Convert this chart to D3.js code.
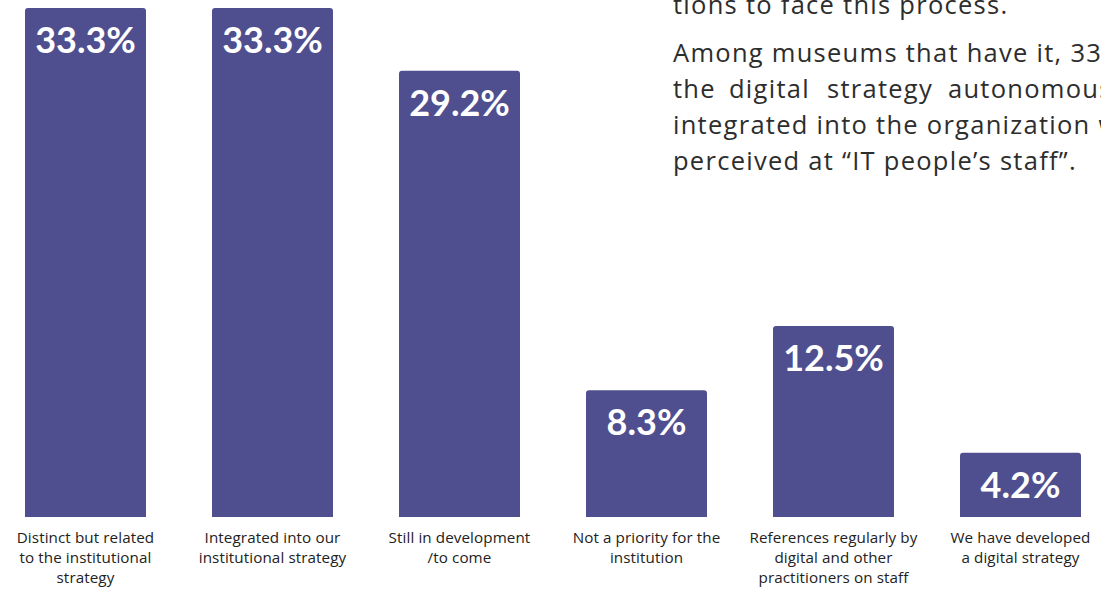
<!DOCTYPE html>
<html>
<head>
<meta charset="utf-8">
<script src="https://cdn.jsdelivr.net/npm/d3@7"></script>
<style>
  html, body { margin: 0; padding: 0; background: #fff; overflow: hidden; }
  svg { display: block; }
</style>
</head>
<body>
<svg class="strategy-chart"></svg>
<script>
// data
const categories = [
  ['Distinct but related', 'to the institutional', 'strategy'],
  ['Integrated into our', 'institutional strategy'],
  ['Still in development', '/to come'],
  ['Not a priority for the', 'institution'],
  ['References regularly by', 'digital and other', 'practitioners on staff'],
  ['We have developed', 'a digital strategy']
]
const values = [33.3, 33.3, 29.2, 8.3, 12.5, 4.2]
const valueLabels = ['33.3%', '33.3%', '29.2%', '8.3%', '12.5%', '4.2%']

// the bit of report text that spills over the top right of the chart
const bodyLines = [
  'tions to face this process.',
  'Among museums that have it, 33.3%',
  'the digital strategy autonomously',
  'integrated into the organization was',
  'perceived at \u201cIT people\u2019s staff\u201d.'
]

const width = 1101
const height = 590
const barColor = '#4f4f8f'

const svg = d3.select('.strategy-chart')
  .attr('width', width)
  .attr('height', height)

const x = d3.scaleBand()
  .domain(d3.range(values.length))
  .range([25, 1081])
  .paddingInner(0.353)
  .paddingOuter(0)

const y = d3.scaleLinear()
  .domain([0, 33.3])
  .range([517, 8])

// bars with slightly rounded top corners
const r = 3
const barPath = (i) => {
  const x0 = x(i), x1 = x(i) + x.bandwidth()
  const y0 = y(0), y1 = y(values[i])
  return `M${x0},${y0}V${y1 + r}Q${x0},${y1} ${x0 + r},${y1}H${x1 - r}Q${x1},${y1} ${x1},${y1 + r}V${y0}Z`
}

svg.selectAll('path.bar')
  .data(values)
  .enter()
  .append('path')
  .attr('class', 'bar')
  .attr('d', (d, i) => barPath(i))
  .attr('fill', barColor)

// value labels inside the bars
svg.selectAll('text.val')
  .data(valueLabels)
  .enter()
  .append('text')
  .attr('class', 'val')
  .attr('x', (d, i) => x(i) + x.bandwidth() / 2)
  .attr('y', (d, i) => y(values[i]) + 45)
  .attr('text-anchor', 'middle')
  .attr('fill', '#fff')
  .style('font-family', 'Lato, sans-serif')
  .style('font-weight', 700)
  .style('font-size', '36px')
  .text(d => d)

// category labels under the bars
const cat = svg.selectAll('text.cat')
  .data(categories)
  .enter()
  .append('text')
  .attr('class', 'cat')
  .attr('text-anchor', 'middle')
  .attr('fill', '#222')
  .style('font-family', '"Open Sans", sans-serif')
  .style('font-size', '15.2px')
  .style('letter-spacing', '0.1px')

cat.each(function(lines, i) {
  const t = d3.select(this)
  lines.forEach((line, k) => {
    t.append('tspan')
      .attr('x', x(i) + x.bandwidth() / 2)
      .attr('y', 543 + k * 20)
      .text(line)
  })
})

// paragraph text at the top right
const para = svg.append('g')
  .style('font-family', '"Open Sans", sans-serif')
  .style('font-size', '25.5px')
  .attr('fill', '#2d2d2d')

// widen the letters a bit so the last line spans what the reference shows
const probe = para.append('text').text(bodyLines[4])
const natural = probe.node().getComputedTextLength()
probe.remove()
const spacing = Math.max(0, (404 - natural) / bodyLines[4].length)
para.style('letter-spacing', spacing + 'px')

// the justified third line, word by word
const line3x = [673, 729, 827, 948]

bodyLines.forEach((line, k) => {
  const yy = k === 0 ? 14 : 62 + (k - 1) * 36
  const t = para.append('text')
    .attr('x', 673)
    .attr('y', yy)
  if (k === 2) {
    line.split(' ').forEach((w, j) => {
      t.append('tspan').attr('x', line3x[j]).text(w)
    })
  } else {
    t.text(line)
  }
})
</script>
</body>
</html>
